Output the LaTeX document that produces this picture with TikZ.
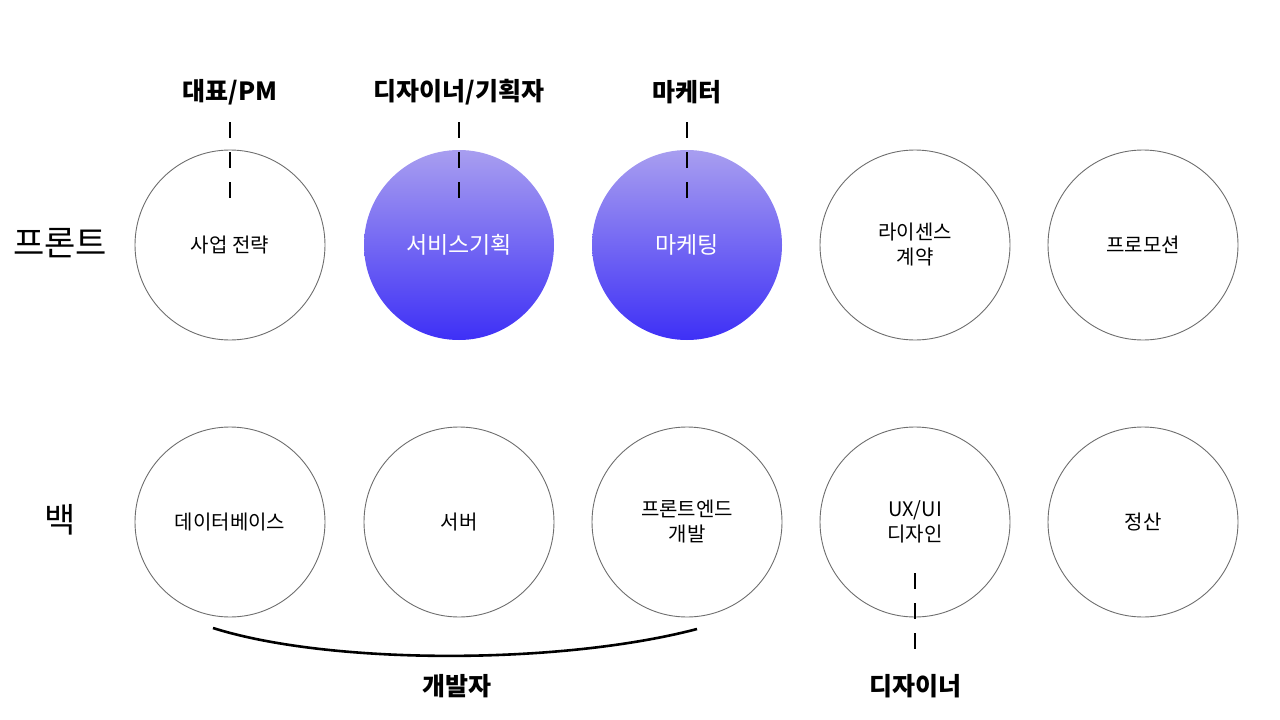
\documentclass[tikz,border=0pt]{standalone}
\usepackage{fontspec}
\setmainfont{Noto Sans CJK KR}
\usetikzlibrary{shadings}
\definecolor{gtop}{RGB}{168,158,240}
\definecolor{gbot}{RGB}{62,48,246}
\definecolor{ring}{RGB}{110,110,110}
\tikzset{
  x=1pt, y=-1pt,
  circ/.style={circle, draw=ring, line width=0.9pt, minimum size=190pt, inner sep=0pt, align=center, font=\fontsize{20}{25}\selectfont},
  grad/.style={circle, draw=none, minimum size=190pt, inner sep=0pt, top color=gtop, bottom color=gbot, text=white, align=center, font=\fontsize{23}{28}\selectfont},
  role/.style={font=\bfseries\fontsize{25}{30}\selectfont},
  rowlab/.style={font=\fontsize{34}{40}\selectfont},
  dashln/.style={line width=2.6pt, dash pattern=on 16pt off 14pt},
  brace/.style={line width=2.6pt}
}
\begin{document}
\begin{tikzpicture}
\useasboundingbox (0,0) rectangle (1280,720);
% row labels
\node[rowlab] (front) at (60,243) {프론트};
\node[rowlab] (back) at (60,520) {백};
% top row
\node[circ] (c1) at (230,245) {사업 전략};
\node[grad] (c2) at (459,245) {서비스기획};
\node[grad] (c3) at (687,245) {마케팅};
\node[circ] (c4) at (915,245) {라이센스\\계약};
\node[circ] (c5) at (1143,245) {프로모션};
% bottom row
\node[circ] (d1) at (230,522) {데이터베이스};
\node[circ] (d2) at (459,522) {서버};
\node[circ] (d3) at (687,522) {프론트엔드\\개발};
\node[circ] (d4) at (915,522) {UX/UI\\디자인};
\node[circ] (d5) at (1143,522) {정산};
% role labels
\node[role] (r1) at (230,92) {대표/PM};
\node[role] (r2) at (459,92) {디자이너/기획자};
\node[role] (r3) at (687,92) {마케터};
\node[role] (r4) at (915,686) {디자이너};
\node[role] (r5) at (457,686) {개발자};
% dashed connectors
\coordinate (s1) at (230,122);
\coordinate (s2) at (459,122);
\coordinate (s3) at (687,122);
\coordinate (t1) at (230,200);
\coordinate (t2) at (459,200);
\coordinate (t3) at (687,200);
\coordinate (s4) at (915,573);
\coordinate (b4) at (915,650);
\draw[dashln] (s1) -- (t1);
\draw[dashln] (s2) -- (t2);
\draw[dashln] (s3) -- (t3);
\draw[dashln] (s4) -- (b4);
% brace arc
\coordinate (a1) at (213,628);
\coordinate (a2) at (697,629);
\draw[brace] (a1) .. controls (330,665) and (560,665) .. (a2);
\end{tikzpicture}
\end{document}
